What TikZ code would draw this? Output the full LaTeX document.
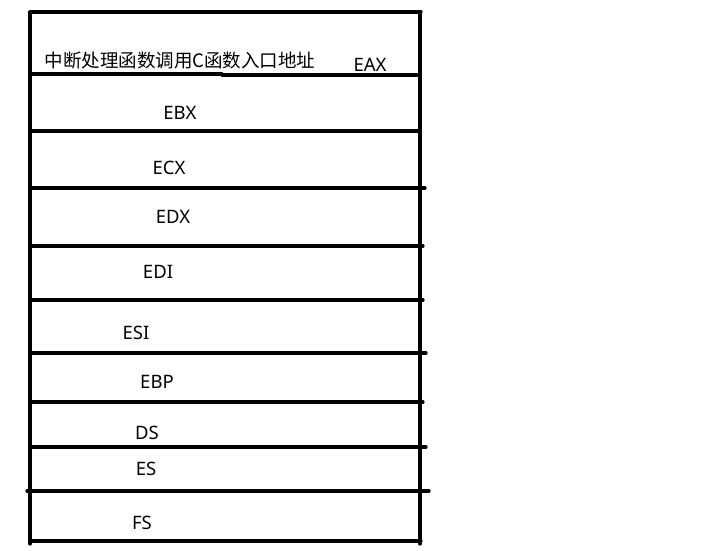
\documentclass[tikz,border=0pt]{standalone}
\usepackage{fontspec}
\setmainfont{Noto Sans}
\newfontfamily\cjk{Noto Sans CJK SC}
\begin{document}
\begin{tikzpicture}[x=1pt,y=-1pt,
  rule/.style={line width=3.2pt,line cap=round},
  reg/.style={font=\fontsize{18.5}{21}\selectfont,inner sep=0pt,anchor=center}]
\useasboundingbox[fill=white] (0,0) rectangle (720,551);
% frame
\draw[rule] (30,12) -- (421,12);
\draw[rule] (30,12) -- (30,544);
\draw[rule] (420,12) -- (420,544);
% separators
\draw[rule] (30,74) -- (222,74);
\draw[rule] (222,75) -- (417,75);
\draw[rule] (30,131) -- (420,131);
\draw[rule] (30,188) -- (425,188);
\draw[rule] (30,246) -- (423,246);
\draw[rule] (30,300) -- (423,300);
\draw[rule] (30,353) -- (426,353);
\draw[rule] (30,402) -- (423,402);
\draw[rule] (30,447) -- (426,447);
\draw[rule] (27,491) -- (429,491);
\draw[rule] (30,541) -- (421,541);
% labels
\node[reg,font=\cjk\fontsize{18.5}{21}\selectfont] (entry) at (180,60) {中断处理函数调用C函数入口地址};
\node[reg] (eax) at (370,65) {EAX};
\node[reg] (ebx) at (180,113) {EBX};
\node[reg] (ecx) at (169,168) {ECX};
\node[reg] (edx) at (173,217) {EDX};
\node[reg] (edi) at (158,272) {EDI};
\node[reg] (esi) at (136,333) {ESI};
\node[reg] (ebp) at (157,382) {EBP};
\node[reg] (ds) at (147,433) {DS};
\node[reg] (es) at (146,469) {ES};
\node[reg] (fs) at (142,523) {FS};
\end{tikzpicture}
\end{document}
